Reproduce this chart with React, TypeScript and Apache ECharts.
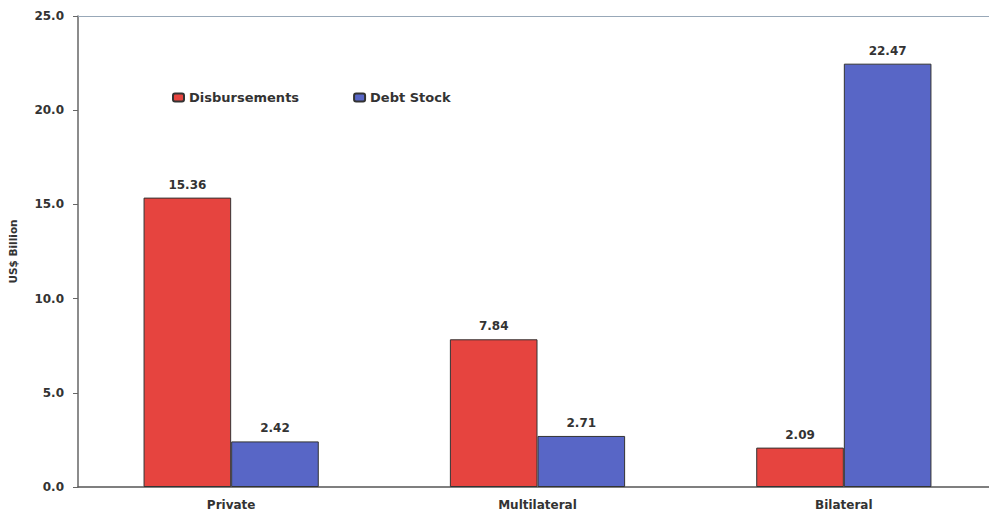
import React, { useEffect, useRef } from "react";
import * as echarts from "echarts";

// Loan flows by creditor type, US$ billion
const categories = ["Private", "Multilateral", "Bilateral"];
const disbursements = [15.36, 7.84, 2.09];
const debtStock = [2.42, 2.71, 22.47];
const seriesNames = ["Disbursements", "Debt Stock"];

const FONT = "DejaVu Sans";

export default function App() {
  const ref = useRef<HTMLDivElement>(null);

  useEffect(() => {
    if (!ref.current) return;
    const chart = echarts.init(ref.current, null, { renderer: "svg" });
    const labelStyle = {
      show: true,
      position: "top" as const,
      distance: 7,
      fontFamily: FONT,
      fontWeight: "bold" as const,
      fontSize: 12,
      color: "#333",
      formatter: (p: any) => Number(p.value).toFixed(2),
    };
    chart.setOption({
      animation: false,
      backgroundColor: "#fff",
      grid: {
        left: 78,
        width: 919,
        top: 16,
        bottom: 28,
        containLabel: false,
        outerBoundsMode: "none",
      },
      legend: {
        data: seriesNames,
        left: 167,
        top: 86,
        icon: "roundRect",
        itemWidth: 11,
        itemHeight: 8,
        itemGap: 54,
        textStyle: { fontFamily: FONT, fontWeight: "bold", fontSize: 13, color: "#333" },
      },
      xAxis: [
        {
          type: "category",
          data: categories,
          position: "bottom",
          axisLine: { lineStyle: { color: "#555", width: 1.5 } },
          axisTick: { show: false },
          axisLabel: {
            margin: 12,
            fontFamily: FONT,
            fontWeight: "bold",
            fontSize: 12,
            color: "#333",
          },
        },
        {
          type: "category",
          data: categories,
          position: "top",
          axisLine: { lineStyle: { color: "#98a8b8", width: 1.2 } },
          axisTick: { show: false },
          axisLabel: { show: false },
        },
      ],
      yAxis: {
        type: "value",
        min: 0,
        max: 25,
        interval: 5,
        name: "US$ Billion",
        nameLocation: "middle",
        nameGap: 60,
        nameTextStyle: { fontFamily: FONT, fontWeight: "bold", fontSize: 10.5, color: "#333" },
        axisLine: { show: true, lineStyle: { color: "#666", width: 1.5 } },
        axisTick: { show: true, length: 5, lineStyle: { color: "#666" } },
        splitLine: { show: false },
        axisLabel: {
          margin: 14,
          fontFamily: FONT,
          fontWeight: "bold",
          fontSize: 12,
          color: "#333",
          formatter: (v: number) => v.toFixed(1),
        },
      },
      series: [
        {
          name: seriesNames[0],
          type: "bar",
          data: disbursements,
          barWidth: "28.6%",
          barGap: "0%",
          itemStyle: { color: "#e6443f", borderColor: "#333", borderWidth: 1 },
          label: labelStyle,
        },
        {
          name: seriesNames[1],
          type: "bar",
          data: debtStock,
          barWidth: "28.6%",
          barGap: "0%",
          itemStyle: { color: "#5866c6", borderColor: "#333", borderWidth: 1 },
          label: labelStyle,
        },
      ],
    });
    return () => chart.dispose();
  }, []);

  return <div ref={ref} style={{ width: 989, height: 515, position: "absolute", left: 0, top: 0 }} />;
}
